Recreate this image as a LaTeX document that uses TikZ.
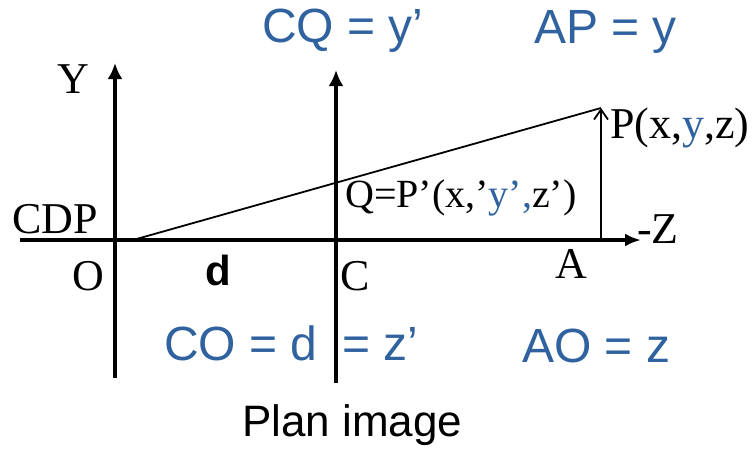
\documentclass[tikz,border=0pt]{standalone}
\usepackage{fontspec}
\setmainfont{Liberation Serif}
\setsansfont{Liberation Sans}
\usetikzlibrary{arrows.meta}
\definecolor{lblue}{RGB}{47,98,158}
\tikzset{
  axis/.style={line width=4pt},
  thin line/.style={line width=1.8pt},
  lbl/.style={inner sep=0pt, anchor=base west, font=\fontsize{44}{48}\selectfont},
  qlbl/.style={inner sep=0pt, anchor=base west, font=\fontsize{40}{44}\selectfont},
  eqlbl/.style={inner sep=0pt, anchor=base west, text=lblue, font=\sffamily\fontsize{48}{52}\selectfont},
  captext/.style={inner sep=0pt, anchor=base west, font=\sffamily\fontsize{44}{48}\selectfont},
}
\begin{document}
\begin{tikzpicture}[x=1pt,y=-1pt]
\useasboundingbox (0,0) rectangle (756,448);
% key points
\coordinate (axL) at (20,240);
\coordinate (axR) at (641,240);
\coordinate (ybot) at (115,378);
\coordinate (ytop) at (115,63);
\coordinate (cbot) at (336,383);
\coordinate (ctop) at (336,70);
\coordinate (S) at (133,240);
\coordinate (A) at (601,240);
\coordinate (P) at (601,108);
% axes
\draw[axis,-{Latex[length=16pt,width=13pt]}] (axL) -- (axR);
\draw[axis,-{Latex[length=16pt,width=15pt]}] (ybot) -- (ytop);
\draw[axis,-{Latex[length=16pt,width=15pt]}] (cbot) -- (ctop);
% ray and AP
\draw[thin line] (S) -- (P);
\draw[thin line,-{Straight Barb[length=10pt,width=14pt]}] (A) -- (P);
% labels
\node[lbl] (lY) at (57,93) {Y};
\node[lbl] (lCDP) at (12,233) {CDP};
\node[lbl] (lO) at (72,290) {O};
\node[lbl] (lC) at (340,290) {C};
\node[inner sep=0pt, anchor=base west, font=\sffamily\bfseries\fontsize{42}{46}\selectfont] (ld) at (205,285) {d};
\node[lbl] (lA) at (555,278) {A};
\node[lbl] (lZ) at (637,243) {-Z};
\node[lbl] (lP) at (610,138) {P(x,\textcolor{lblue}{y},z)};
\node[qlbl] (lQ) at (345,207) {Q=P’(x,’\textcolor{lblue}{y’,}z’)};
\node[eqlbl] (e1) at (262,42) {CQ = y’};
\node[eqlbl] (e2) at (534,43) {AP = y};
\node[eqlbl] (e3) at (164,360) {CO = d};
\node[eqlbl] (e4) at (342,360) {= z’};
\node[eqlbl] (e5) at (522,362) {AO = z};
\node[captext] (captn) at (242,436) {Plan image};
\end{tikzpicture}
\end{document}
